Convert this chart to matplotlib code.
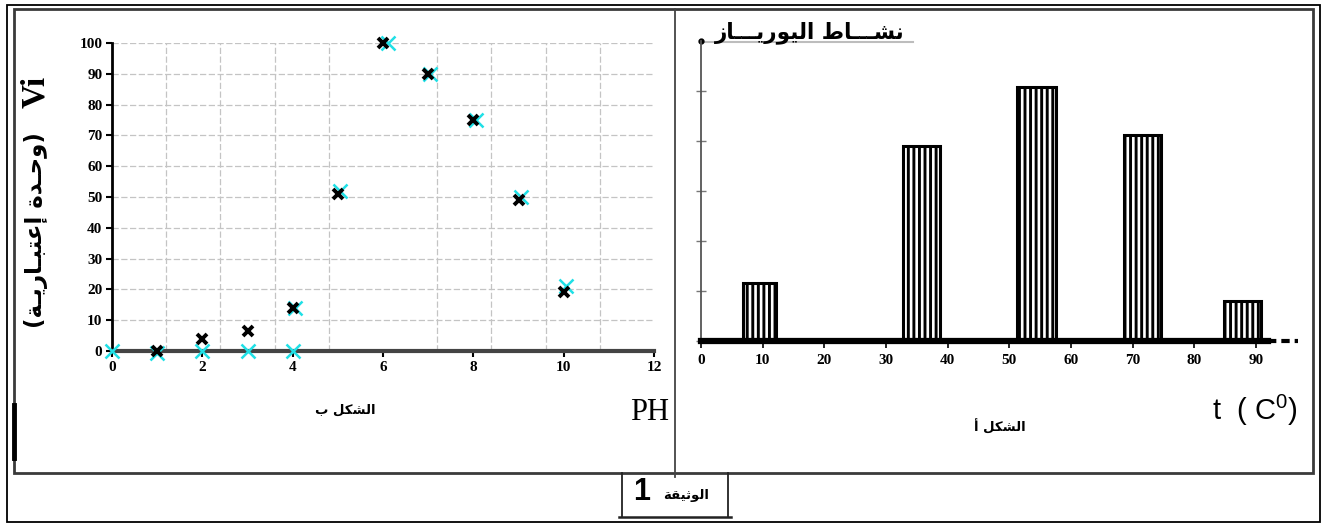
import numpy as np
import matplotlib
matplotlib.use("Agg")
import matplotlib.pyplot as plt
from matplotlib.patches import Rectangle

plt.rcParams["mathtext.fontset"] = "custom"
plt.rcParams["mathtext.rm"] = "Liberation Sans"
plt.rcParams["hatch.linewidth"] = 2.1

# الشكل ب : سرعة التفاعل بدلالة PH
ph_black = [1, 2, 3, 4, 5, 6, 7, 8, 9, 10]
vi_black = [0, 4, 6.5, 14, 51, 100, 90, 75, 49, 19]
ph_cyan = [0, 1, 2, 3, 4, 4.05, 5.05, 6.1, 7.05, 8.05, 9.05, 10.05]
vi_cyan = [0, -0.8, 0, 0, 0, 14, 52, 100, 90, 75, 50, 21]

# الشكل أ : نشاط اليورياز بدلالة درجة الحرارة
temp_c = [9.5, 35.7, 54.4, 71.6, 87.8]
bar_w = [5.4, 6.0, 6.3, 5.9, 6.1]
activity = [1.16, 3.9, 5.09, 4.13, 0.8]

ph_ticks = [0, 2, 4, 6, 8, 10, 12]
vi_ticks = list(range(0, 101, 10))
t_ticks = list(range(0, 91, 10))

W, H = 1326, 524

# Arabic presentation forms (iso, fin, ini, med)
FORMS = {
    "ا": ("\uFE8D", "\uFE8E", None, None),
    "أ": ("\uFE83", "\uFE84", None, None),
    "إ": ("\uFE87", "\uFE88", None, None),
    "ب": ("\uFE8F", "\uFE90", "\uFE91", "\uFE92"),
    "ة": ("\uFE93", "\uFE94", None, None),
    "ت": ("\uFE95", "\uFE96", "\uFE97", "\uFE98"),
    "ث": ("\uFE99", "\uFE9A", "\uFE9B", "\uFE9C"),
    "ح": ("\uFEA1", "\uFEA2", "\uFEA3", "\uFEA4"),
    "د": ("\uFEA9", "\uFEAA", None, None),
    "ر": ("\uFEAD", "\uFEAE", None, None),
    "ز": ("\uFEAF", "\uFEB0", None, None),
    "ش": ("\uFEB5", "\uFEB6", "\uFEB7", "\uFEB8"),
    "ط": ("\uFEC1", "\uFEC2", "\uFEC3", "\uFEC4"),
    "ع": ("\uFEC9", "\uFECA", "\uFECB", "\uFECC"),
    "ق": ("\uFED5", "\uFED6", "\uFED7", "\uFED8"),
    "ك": ("\uFED9", "\uFEDA", "\uFEDB", "\uFEDC"),
    "ل": ("\uFEDD", "\uFEDE", "\uFEDF", "\uFEE0"),
    "ن": ("\uFEE5", "\uFEE6", "\uFEE7", "\uFEE8"),
    "و": ("\uFEED", "\uFEEE", None, None),
    "ي": ("\uFEF1", "\uFEF2", "\uFEF3", "\uFEF4"),
    "ـ": ("ـ", "ـ", "ـ", "ـ"),
}


def dual(c):
    return c in FORMS and FORMS[c][2] is not None


def ar(text):
    # shape letters and put them in visual (left-to-right) order
    out = []
    for i, c in enumerate(text):
        if c not in FORMS:
            out.append(c)
            continue
        prev = text[i - 1] if i > 0 else ""
        nxt = text[i + 1] if i + 1 < len(text) else ""
        jp = dual(prev)
        jn = dual(c) and nxt in FORMS
        iso, fin, ini, med = FORMS[c]
        if jp and jn:
            out.append(med)
        elif jp:
            out.append(fin)
        elif jn:
            out.append(ini)
        else:
            out.append(iso)
    return "".join(reversed(out))


fig = plt.figure(figsize=(W / 100, H / 100), dpi=100)

# page frame / text layer in pixel coordinates
bg = fig.add_axes([0, 0, 1, 1])
bg.set_xlim(0, W)
bg.set_ylim(H, 0)
bg.axis("off")
bg.add_patch(Rectangle((7, 5), 1313, 517, fill=False, lw=1.3, ec="black"))
bg.add_patch(Rectangle((14, 9), 1299, 464, fill=False, lw=2, ec="#3a3a3a"))
bg.plot([675, 675], [9, 477], color="#444444", lw=1.3)
bg.plot([14, 14], [405, 458], color="black", lw=3.5)
bg.plot([622, 622], [473, 517], color="#222222", lw=1.3)
bg.plot([728, 728], [473, 517], color="#222222", lw=1.3)
bg.plot([619, 731], [517, 517], color="#222222", lw=1.8)

arfont = ["DejaVu Sans", "Noto Sans"]
bg.text(345, 410, ar("الشكل ب"), family=arfont, weight="bold", fontsize=9.5,
        ha="center", va="center")
bg.text(1000, 427, ar("الشكل أ"), family=arfont, weight="bold", fontsize=9.5,
        ha="center", va="center")
bg.text(650, 413, "PH", family="Liberation Serif", fontsize=22,
        ha="center", va="center")
bg.text(1255, 410, "t  ( C$^{0}$)", family="Liberation Sans", fontsize=21,
        ha="center", va="center")
bg.text(642, 492, "1", family="Liberation Sans", weight="bold", fontsize=22,
        ha="center", va="center")
bg.text(686, 495, ar("الوثيقة"), family=arfont, weight="bold", fontsize=9.5,
        ha="center", va="center")
bg.text(810, 33, ar("نشـــاط اليوريـــاز"), family=arfont, weight="bold",
        fontsize=15.5, ha="center", va="center")
bg.plot([700, 913], [42, 42], color="#bdbdbd", lw=1.5)
bg.text(36, 92, "Vi", family="Liberation Serif", weight="bold", fontsize=24,
        rotation=90, ha="center", va="center")
bg.text(36, 230, "(" + ar("وحـدة إعتبـاريـة") + ")", family=arfont,
        weight="bold", fontsize=16.5, rotation=90, ha="center", va="center")

# ---- الشكل ب
ax1 = fig.add_axes([112 / W, 1 - 351 / H, (654 - 112) / W, (351 - 43) / H])
ax1.set_xlim(0, 12)
ax1.set_ylim(0, 100)
ax1.patch.set_alpha(0)
ax1.set_xticks(ph_ticks)
ax1.set_yticks(vi_ticks)
ax1.set_xticks(np.arange(0, 12.01, 1.2), minor=True)
ax1.grid(which="minor", axis="x", color="#c4c4c4", ls=(0, (5, 2)), lw=0.9)
ax1.grid(which="major", axis="y", color="#c4c4c4", ls=(0, (5, 2)), lw=0.9)
ax1.tick_params(which="minor", length=0)
ax1.tick_params(which="major", direction="out", length=4, width=1.5,
                labelsize=11, pad=3)
for lab in ax1.get_xticklabels() + ax1.get_yticklabels():
    lab.set_family("Liberation Serif")
    lab.set_weight("bold")
for s in ["top", "right"]:
    ax1.spines[s].set_visible(False)
ax1.spines["left"].set_linewidth(2)
ax1.spines["bottom"].set_linewidth(3)
ax1.spines["bottom"].set_color("#444444")
ax1.plot(ph_cyan, vi_cyan, ls="none", marker="x", ms=10, mew=1.8,
         color="#1fe0e6", clip_on=False, zorder=3)
ax1.plot(ph_black, vi_black, ls="none", marker="x", ms=7.5, mew=2.8,
         color="black", clip_on=False, zorder=4)

# ---- الشكل أ
ax2 = fig.add_axes([701 / W, 1 - 341 / H, (1298 - 701) / W, (341 - 41) / H])
ax2.set_xlim(0, 96.8)
ax2.set_ylim(0, 6)
ax2.patch.set_alpha(0)
ax2.bar(temp_c, activity, width=bar_w, color="white", edgecolor="black",
        lw=2.2, hatch="|||", zorder=2)
for s in ["top", "right"]:
    ax2.spines[s].set_visible(False)
ax2.spines["left"].set_color("#555555")
ax2.spines["left"].set_linewidth(1.3)
ax2.spines["bottom"].set_linewidth(4.5)
ax2.spines["bottom"].set_bounds(0, 92)
ax2.spines["bottom"].set_zorder(3)
ax2.plot([92, 96.8], [0, 0], color="black", lw=3, ls=(0, (2, 1.2)),
         clip_on=False)
ax2.plot([0], [1], "o", color="black", ms=3.5, transform=ax2.transAxes,
         clip_on=False)
ax2.set_xticks(t_ticks)
ax2.set_yticks(range(0, 6))
ax2.set_yticklabels([])
ax2.tick_params(axis="y", direction="inout", length=7, width=1,
                color="#777777")
ax2.tick_params(axis="x", direction="out", length=5, width=1.2,
                labelsize=11, pad=4)
for lab in ax2.get_xticklabels():
    lab.set_family("Liberation Serif")
    lab.set_weight("bold")

fig.savefig("out.png", dpi=100)
